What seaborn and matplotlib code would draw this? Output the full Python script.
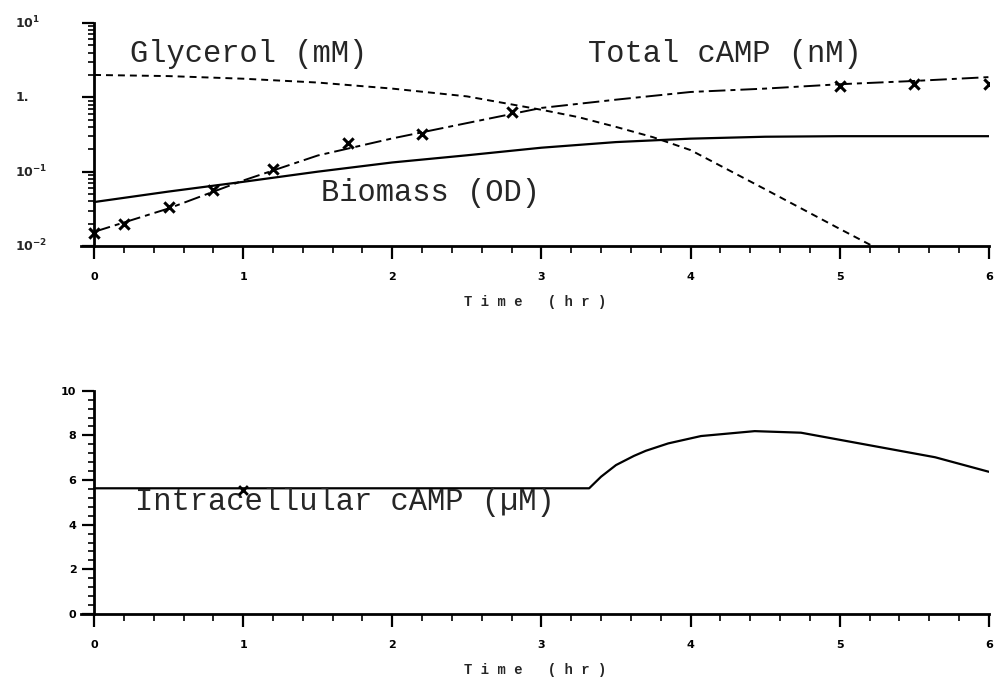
import matplotlib
matplotlib.use('Agg')
import matplotlib.pyplot as plt
import matplotlib.ticker as mticker
import seaborn as sns

# ---- data ----
glycerol_t = [0, 0.5, 1.0, 1.5, 2.0, 2.5, 3.0, 3.25, 3.5, 3.75, 4.0, 4.5, 5.0, 5.25]
glycerol_v = [2.0, 1.93, 1.78, 1.58, 1.31, 1.03, 0.68, 0.54, 0.40, 0.29, 0.195, 0.058, 0.017, 0.0093]

biomass_t = [0, 0.5, 1, 1.5, 2, 2.5, 3, 3.5, 4, 4.5, 5, 5.5, 6]
biomass_v = [0.039, 0.054, 0.073, 0.10, 0.133, 0.166, 0.21, 0.25, 0.278, 0.295, 0.30, 0.30, 0.30]

camp_t = [0, 0.5, 1, 1.5, 2, 2.5, 3, 3.5, 4, 4.5, 5, 5.5, 6]
camp_v = [0.0155, 0.032, 0.076, 0.165, 0.28, 0.45, 0.72, 0.93, 1.18, 1.31, 1.5, 1.66, 1.87]

camp_obs_t = [0, 0.2, 0.5, 0.8, 1.2, 1.7, 2.2, 2.8, 5.0, 5.5, 6.0]
camp_obs_v = [0.015, 0.020, 0.033, 0.056, 0.107, 0.243, 0.325, 0.634, 1.41, 1.50, 1.53]

intra_t = [0, 3.32, 3.4, 3.5, 3.62, 3.7, 3.85, 4.07, 4.43, 4.74, 5.19, 5.64, 6.0]
intra_v = [5.63, 5.63, 6.15, 6.67, 7.08, 7.31, 7.64, 7.97, 8.19, 8.12, 7.57, 7.02, 6.37]

intra_obs_t = [1.0]
intra_obs_v = [5.55]

x_ticks = [0, 1, 2, 3, 4, 5, 6]
top_yticks = [0.01, 0.1, 1, 10]
top_ylabels = [r'$\mathbf{10^{-2}}$', r'$\mathbf{10^{-1}}$', '1.', r'$\mathbf{10^{1}}$']
bot_yticks = [0, 2, 4, 6, 8, 10]
xlabel_text = 'T i m e   ( h r )'

# ---- style ----
sns.set_style('ticks')
plt.rcParams['lines.scale_dashes'] = False
plt.rcParams['font.family'] = ['DejaVu Sans']
plt.rcParams['mathtext.fontset'] = 'dejavusans'

MONO = 'Liberation Mono'
K = 'black'

fig = plt.figure(figsize=(9.98, 6.82), dpi=100)
ax1 = fig.add_axes([0.0808, 0.6393, 0.910, 0.327])
ax2 = fig.add_axes([0.0808, 0.0997, 0.910, 0.3274])

# ---- top panel ----
ax1.set_yscale('log')
sns.lineplot(x=glycerol_t, y=glycerol_v, ax=ax1, color=K, lw=1.4,
             linestyle=(0, (5, 3.6)))
sns.lineplot(x=biomass_t, y=biomass_v, ax=ax1, color=K, lw=1.6)
sns.lineplot(x=camp_t, y=camp_v, ax=ax1, color=K, lw=1.4,
             linestyle=(0, (12, 3.6, 3.6, 3.6)))
sns.scatterplot(x=camp_obs_t, y=camp_obs_v, ax=ax1, marker='x', s=55,
                color=K, linewidth=2.2, zorder=5)

ax1.set_ylim(0.01, 10)
ax1.set_yticks(top_yticks, labels=[''] * len(top_yticks))
ax1.yaxis.set_minor_locator(mticker.LogLocator(base=10, subs=range(2, 10)))
ax1.yaxis.set_minor_formatter(mticker.NullFormatter())
ax1.tick_params(axis='y', which='major', length=8.6, width=1.6)
ax1.tick_params(axis='y', which='minor', length=4.5, width=1.4)
ytr = ax1.get_yaxis_transform()
for yv, lab in zip(top_yticks, top_ylabels):
    ax1.text(-0.0722, yv, lab, transform=ytr, ha='left', va='center',
             fontsize=9, fontweight='bold', clip_on=False)

ax1.text(0.242, 2.96, 'Glycerol (mM)', family=MONO, fontsize=22, va='baseline')
ax1.text(3.31, 2.96, 'Total cAMP (nM)', family=MONO, fontsize=22, va='baseline')
ax1.text(1.519, 0.0405, 'Biomass (OD)', family=MONO, fontsize=22, va='baseline')

# ---- bottom panel ----
sns.lineplot(x=intra_t, y=intra_v, ax=ax2, color=K, lw=1.6)
sns.scatterplot(x=intra_obs_t, y=intra_obs_v, ax=ax2, marker='x', s=40,
                color=K, linewidth=2, zorder=5)
ax2.set_ylim(0, 10)
ax2.set_yticks(bot_yticks, labels=[str(v) for v in bot_yticks])
ax2.yaxis.set_minor_locator(mticker.MultipleLocator(0.4))
ax2.tick_params(axis='y', which='major', length=8.6, width=1.6, pad=4,
                labelsize=8)
ax2.tick_params(axis='y', which='minor', length=4.5, width=1.4)
ax2.text(0.276, 4.68, 'Intracellular cAMP (\u00b5M)', family=MONO, fontsize=22,
         va='baseline')

# ---- shared x styling ----
for ax in (ax1, ax2):
    ax.set_xlim(-0.09, 6.0)
    ax.set_xticks(x_ticks, labels=[str(v) for v in x_ticks])
    ax.xaxis.set_minor_locator(mticker.MultipleLocator(0.2))
    ax.tick_params(axis='x', which='major', direction='out', length=9.5,
                   width=1.6, pad=9, labelsize=8)
    ax.tick_params(axis='x', which='minor', direction='out', length=5,
                   width=1.4)
    ax.tick_params(axis='y', direction='out')
    ax.spines['left'].set_position(('data', 0))
    ax.spines['top'].set_visible(False)
    ax.spines['right'].set_visible(False)
    for s in ('left', 'bottom'):
        ax.spines[s].set_linewidth(2)
        ax.spines[s].set_color(K)
    ax.tick_params(colors=K)
    ax.set_xlabel(xlabel_text, family=MONO, fontweight='bold', fontsize=10,
                  labelpad=9.5)
    ax.set_ylabel('')
    ax.grid(False)
    for lbl in ax.get_xticklabels() + ax.get_yticklabels():
        lbl.set_fontweight('bold')

fig.savefig('out.png', dpi=100, facecolor='white')
